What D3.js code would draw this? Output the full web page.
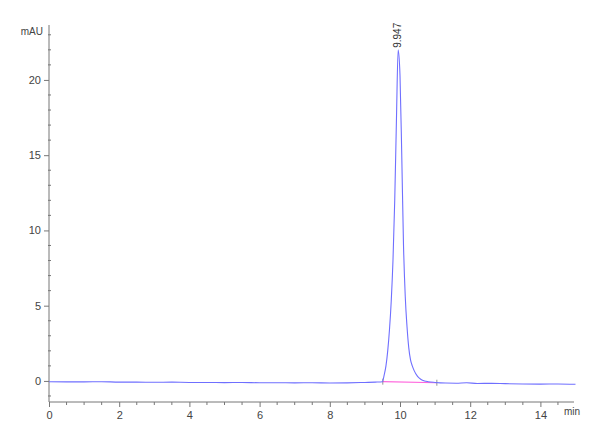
<!DOCTYPE html>
<html>
<head>
<meta charset="utf-8">
<script src="https://cdn.jsdelivr.net/npm/d3@7"></script>
<style>
  body { margin: 0; background: #fff; }
  svg { font-family: "Liberation Sans Narrow", "Liberation Sans", Arial, sans-serif; }
</style>
</head>
<body>
<div id="chart"></div>
<script>
// signal trace (minutes, mAU)
var times = [0, 0.5, 1, 1.5, 2, 2.5, 3, 3.5, 4, 4.5, 5, 5.5, 6, 6.5, 7, 7.5, 8, 8.5, 9, 9.3,
  9.5, 9.55, 9.6, 9.65, 9.7, 9.75, 9.8, 9.85, 9.9, 9.947, 10.0, 10.05, 10.1, 10.15, 10.2,
  10.25, 10.3, 10.35, 10.4, 10.5, 10.6, 10.7, 10.8, 11.0, 11.3, 11.6, 11.9, 12.2, 12.6,
  13.0, 13.5, 14.0, 14.5, 15.0];
var signal = [-0.05, -0.06, -0.06, -0.05, -0.08, -0.08, -0.09, -0.08, -0.1, -0.1, -0.11, -0.1,
  -0.12, -0.12, -0.13, -0.12, -0.14, -0.13, -0.1, -0.08,
  -0.05, 0.4, 1.0, 2.0, 3.4, 5.3, 8.0, 12.0, 17.5, 22.0, 20.3, 15.0, 9.0, 5.6, 3.6,
  2.2, 1.4, 1.0, 0.7, 0.3, 0.1, 0.0, -0.05, -0.1, -0.14, -0.15, -0.12, -0.17, -0.16,
  -0.18, -0.2, -0.21, -0.2, -0.22];

// integration baseline under the peak
var baseTimes = [9.51, 11.05];
var baseValues = [-0.05, -0.12];

var peakTime = 9.947;
var peakHeight = 22.0;
var peakLabel = "9.947";

var xMajor = [0, 2, 4, 6, 8, 10, 12, 14];
var yMajor = [0, 5, 10, 15, 20];

var width = 600;
var height = 440;

var x = d3.scaleLinear().domain([0, 15]).range([49, 575.5]);
var y = d3.scaleLinear().domain([-1.4, 23.65]).range([402, 25]);

var svg = d3.select("#chart").append("svg")
  .attr("width", width)
  .attr("height", height);

var axisColor = "#777";
var textColor = "#444";

// x axis
var xMinor = d3.range(0, 15, 0.5).filter(function (v) { return v % 2 !== 0; });
var gx = svg.append("g").attr("transform", "translate(0,402)");
gx.append("line").attr("x1", 49).attr("x2", 574).attr("stroke", axisColor);
gx.selectAll("line.minor").data(xMinor).enter().append("line")
  .attr("class", "minor")
  .attr("x1", function (d) { return x(d); })
  .attr("x2", function (d) { return x(d); })
  .attr("y1", 0).attr("y2", 3)
  .attr("stroke", axisColor);
gx.call(d3.axisBottom(x).tickValues(xMajor).tickSize(5).tickPadding(4).tickFormat(d3.format("d")))
  .call(function (g) { g.select(".domain").remove(); })
  .call(function (g) {
    g.selectAll(".tick line").attr("stroke", axisColor);
    g.selectAll(".tick text").attr("fill", textColor).style("font-size", "11px");
  });
svg.append("text").attr("x", 564).attr("y", 415)
  .attr("fill", textColor).style("font-size", "10px").text("min");

// y axis
var yMinor = d3.range(-1, 24, 1).filter(function (v) { return v % 5 !== 0; });
var gy = svg.append("g").attr("transform", "translate(49,0)");
gy.append("line").attr("y1", 25).attr("y2", 402).attr("stroke", axisColor);
gy.selectAll("line.minor").data(yMinor).enter().append("line")
  .attr("class", "minor")
  .attr("y1", function (d) { return y(d); })
  .attr("y2", function (d) { return y(d); })
  .attr("x1", -1).attr("x2", 2)
  .attr("stroke", axisColor);
gy.call(d3.axisLeft(y).tickValues(yMajor).tickSize(5).tickPadding(3).tickFormat(d3.format("d")))
  .call(function (g) { g.select(".domain").remove(); })
  .call(function (g) {
    g.selectAll(".tick line").attr("stroke", axisColor);
    g.selectAll(".tick text").attr("fill", textColor).style("font-size", "11px");
  });
svg.append("text").attr("x", 43).attr("y", 35).attr("text-anchor", "end")
  .attr("fill", textColor).style("font-size", "10px").text("mAU");

// integration baseline
svg.append("line")
  .attr("x1", x(baseTimes[0])).attr("y1", y(baseValues[0]))
  .attr("x2", x(baseTimes[1])).attr("y2", y(baseValues[1]))
  .attr("stroke", "#ff66dd").attr("stroke-width", 1.2);
baseTimes.forEach(function (t, i) {
  svg.append("line")
    .attr("x1", x(t)).attr("x2", x(t))
    .attr("y1", y(baseValues[i]) - 3).attr("y2", y(baseValues[i]) + 3)
    .attr("stroke", "#777").attr("stroke-width", 0.8);
});

// trace
var line = d3.line()
  .x(function (d) { return x(d[0]); })
  .y(function (d) { return y(d[1]); })
  .curve(d3.curveMonotoneX);
svg.append("path")
  .datum(d3.zip(times, signal))
  .attr("fill", "none")
  .attr("stroke", "#6f6fff")
  .attr("stroke-width", 1.1)
  .attr("d", line);

// peak label
svg.append("text")
  .attr("transform", "translate(" + (x(peakTime) + 3) + "," + (y(peakHeight) - 2) + ") rotate(-90)")
  .attr("fill", "#333")
  .style("font-size", "10px")
  .text(peakLabel);
</script>
</body>
</html>
